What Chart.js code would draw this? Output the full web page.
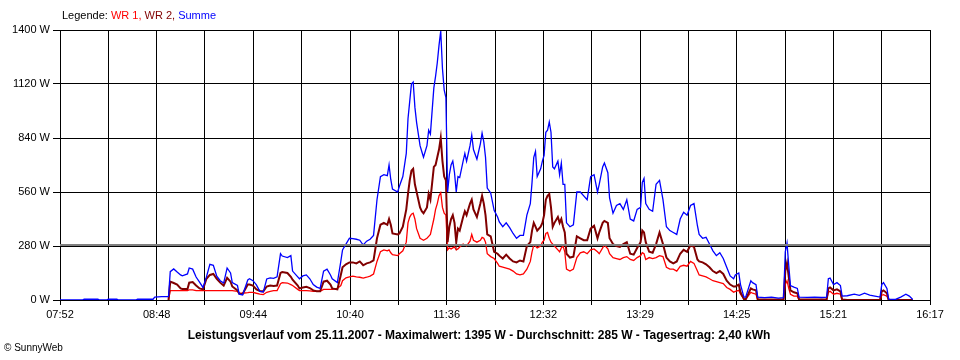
<!DOCTYPE html>
<html>
<head>
<meta charset="utf-8">
<script src="https://cdn.jsdelivr.net/npm/chart.js@4/dist/chart.umd.min.js"></script>
<style>
html,body{margin:0;padding:0;background:#fff;}
#wrap{position:relative;width:960px;height:360px;}
canvas{display:block;}
</style>
</head>
<body>
<div id="wrap"><canvas id="c" width="960" height="360"></canvas></div>
<script>
// Time of day in minutes since midnight
const times = [
472,485,486,494,495,499,500,505,506,516,
517,526,527,531,535,536,538,540,542,543,
546,547,549,551,553,555,557,559,561,563,
565,567,569,571,572,575,576,578,581,582,
584,586,588,590,592,594,596,598,600,601,
604,606,607,610,611,613,615,617,619,621,
623,625,627,629,630,633,635,636,638,640,
642,644,646,648,650,652,654,656,658,660,
662,663,664,665,668,669,671,673,674,675,
676,677,678,679,681,682,683,685,686,687,
689,690,691,692,693,694,695,696,697,698,
699,700,701,702,703,704,706,707,708,710,
711,712,714,716,717,718,719,720,722,724,
726,727,729,731,733,735,737,739,741,743,
745,746,747,748,749,751,752,753,754,755,
756,757,758,759,761,762,763,764,765,766,
768,770,772,774,776,778,780,782,784,785,
787,788,790,791,793,795,797,799,801,803,
805,807,809,810,811,812,814,816,818,820,
822,824,826,828,830,832,834,836,838,840,
842,843,845,847,849,851,853,855,857,859,
861,863,864,866,867,869,870,873,874,876,
877,881,885,889,892,893,894,895,896,898,
900,901,906,910,914,917,918,919,921,923,
925,926,929,933,936,939,942,945,948,949,
950,952,953,957,960,963,965,967
];
// WR 1 (red), W
const wr1 = [
null,null,null,null,null,null,null,null,null,null,
null,null,null,null,0,49,49,49,49,49,
49,52,52,49,49,49,49,49,49,49,
49,49,49,49,49,45,35,35,38,40,
40,35,31,28,40,45,49,49,85,90,
88,80,75,55,49,49,49,47,45,45,
45,55,55,55,55,60,75,100,115,120,
124,120,118,114,118,124,135,200,250,260,
255,260,245,235,230,240,255,300,400,430,
445,450,420,370,320,315,310,320,330,340,
420,470,500,540,556,480,450,440,260,270,
265,270,275,260,265,275,290,285,280,305,
340,310,300,310,325,320,300,240,225,215,
190,175,170,165,160,150,135,130,135,160,
200,250,285,280,270,280,300,310,345,350,
320,300,290,280,260,250,270,280,250,160,
150,160,220,245,250,240,260,265,250,240,
270,285,265,240,220,215,210,220,225,210,
205,220,230,245,240,210,220,215,220,230,
225,170,160,160,150,175,180,175,200,190,
150,130,125,120,110,100,95,90,85,65,
55,40,45,50,30,5,3,40,35,30,
0,0,0,0,0,80,100,60,30,20,
20,0,0,0,0,0,40,45,30,35,
30,0,0,0,0,0,0,0,0,25,
28,20,0,0,0,0,0,0
];
// WR 2 (dark red), W
const wr2 = [
null,null,null,null,null,null,null,null,null,null,
null,null,null,null,0,95,88,80,60,57,
57,90,93,75,60,55,110,130,135,110,
90,75,115,95,70,50,33,31,80,80,
75,55,47,45,70,75,73,75,140,145,
140,120,105,75,60,65,68,62,50,45,
45,95,100,80,60,55,130,170,185,195,
195,190,200,180,190,195,205,320,390,400,
390,420,390,345,340,345,380,470,550,620,
670,680,600,560,480,460,450,480,550,520,
690,700,740,780,840,720,640,620,300,380,
420,440,400,300,370,360,430,460,440,500,
520,470,430,500,540,500,440,340,330,250,
240,230,215,235,215,200,195,205,200,280,
300,360,400,380,360,380,400,440,520,540,
550,480,380,400,430,400,420,380,350,240,
220,225,330,320,310,310,370,385,320,350,
400,410,400,320,290,280,275,290,300,240,
235,270,300,360,350,300,250,245,290,350,
290,220,200,190,200,240,260,250,285,275,
210,200,195,185,170,150,140,150,135,100,
80,70,70,80,40,5,3,60,55,50,
3,2,2,2,3,150,192,120,50,40,
35,3,2,2,2,3,60,65,50,55,
45,2,0,0,0,0,0,0,0,45,
50,35,0,0,0,0,0,0
];
// Summe (blue), W
const summe = [
0,0,4,4,0,0,4,4,0,0,
4,4,15,18,18,147,161,145,130,125,
135,166,160,119,93,65,120,185,180,124,
100,88,166,140,90,75,30,26,104,110,
100,78,45,41,109,115,112,120,240,228,
220,230,150,120,110,125,130,110,80,67,
60,150,160,130,110,90,200,260,290,320,
318,315,310,285,305,315,335,520,640,650,
645,700,625,575,560,590,640,760,940,1030,
1120,1130,1000,920,800,770,740,800,880,860,
1100,1160,1230,1320,1395,1200,1090,1050,560,650,
700,720,660,560,640,635,720,760,720,800,
855,780,730,810,865,820,740,580,555,465,
430,405,380,400,375,345,320,335,335,440,
500,610,740,770,640,680,720,750,870,880,
923,870,690,680,720,650,710,600,600,400,
380,390,560,560,540,520,640,650,560,600,
690,710,660,530,450,490,500,470,520,420,
410,470,480,610,630,500,470,460,600,620,
520,380,360,350,340,420,455,440,490,500,
385,340,320,325,290,255,230,245,215,170,
125,110,130,140,80,15,15,100,90,80,
15,12,15,10,12,250,295,180,75,67,
60,15,14,15,13,15,110,114,80,90,
75,20,22,30,24,35,25,20,15,80,
90,60,5,3,15,30,20,3
];
const average = 285;
const tickLabels = ['07:52','08:48','09:44','10:40','11:36','12:32','13:29','14:25','15:21','16:17'];
const yTicks = [0, 280, 560, 840, 1120, 1400];
const startMin = 472, endMin = 977;

const toPts = arr => times.map((t, i) => ({x: t, y: arr[i]}));

const textPlugin = {
  id: 'texts',
  afterDraw(chart) {
    const ctx = chart.ctx;
    ctx.save();
    ctx.textBaseline = 'middle';
    ctx.textAlign = 'left';
    ctx.font = '11px "Liberation Sans", Arial, sans-serif';
    let x = 62;
    const parts = [['Legende: ', '#000000'], ['WR 1, ', '#ff0000'], ['WR 2, ', '#800000'], ['Summe', '#0000ff']];
    for (const [s, c] of parts) {
      ctx.fillStyle = c;
      ctx.fillText(s, x, 16);
      x += ctx.measureText(s).width;
    }
    ctx.fillStyle = '#000';
    ctx.font = 'bold 12px "Liberation Sans", Arial, sans-serif';
    ctx.textAlign = 'center';
    ctx.fillText('Leistungsverlauf vom 25.11.2007 - Maximalwert: 1395 W - Durchschnitt: 285 W - Tagesertrag: 2,40 kWh', 479, 336);
    ctx.font = '10px "Liberation Sans", Arial, sans-serif';
    ctx.textAlign = 'left';
    ctx.fillText('\u00a9 SunnyWeb', 4, 348);
    ctx.restore();
  }
};

Chart.defaults.font.family = '"Liberation Sans", Arial, sans-serif';
Chart.defaults.font.size = 11;
Chart.defaults.color = '#000';

new Chart(document.getElementById('c'), {
  type: 'line',
  data: {
    datasets: [
      {label: 'Durchschnitt', data: [{x: startMin, y: average}, {x: endMin, y: average}], borderColor: '#808080', borderWidth: 2, pointRadius: 0},
      {label: 'Summe', data: toPts(summe), borderColor: '#0000ff', borderWidth: 1.3, pointRadius: 0, tension: 0},
      {label: 'WR 2', data: toPts(wr2), borderColor: '#800000', borderWidth: 2, pointRadius: 0, tension: 0},
      {label: 'WR 1', data: toPts(wr1), borderColor: '#ff0000', borderWidth: 1.3, pointRadius: 0, tension: 0}
    ]
  },
  options: {
    responsive: false,
    animation: false,
    devicePixelRatio: 1,
    layout: {padding: {top: 30, right: 30, left: 0, bottom: 0}},
    plugins: {legend: {display: false}, tooltip: {enabled: false}, title: {display: false}},
    scales: {
      x: {
        type: 'linear', min: startMin, max: endMin,
        afterBuildTicks(scale) {
          const step = (endMin - startMin) / 18;
          scale.ticks = Array.from({length: 19}, (_, i) => ({value: startMin + i * step}));
        },
        afterFit(scale) { scale.height = 60; scale.paddingLeft = 0; scale.paddingRight = 0; },
        ticks: {
          autoSkip: false, maxRotation: 0, minRotation: 0, padding: 3, color: '#000',
          callback: (v, i) => (i % 2 === 0 ? tickLabels[i / 2] : '')
        },
        grid: {color: '#000', lineWidth: 1, tickLength: 5, drawTicks: true},
        border: {color: '#000', width: 1}
      },
      y: {
        min: 0, max: 1400,
        afterBuildTicks(scale) { scale.ticks = yTicks.map(v => ({value: v})); },
        afterFit(scale) { scale.width = 60; },
        ticks: {padding: 3, color: '#000', callback: v => v + ' W'},
        grid: {color: '#000', lineWidth: 1, tickLength: 7, drawTicks: true},
        border: {color: '#000', width: 1}
      }
    }
  },
  plugins: [textPlugin]
});
</script>
</body>
</html>
